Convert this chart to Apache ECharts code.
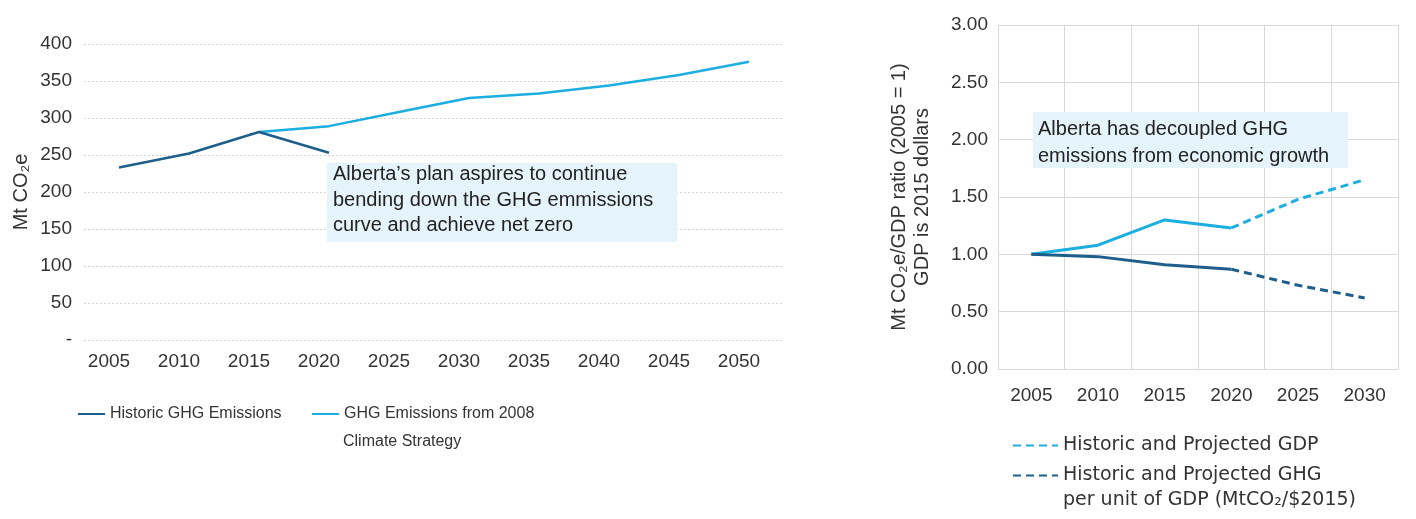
<!DOCTYPE html>
<html>
<head>
<meta charset="utf-8">
<script src="https://cdn.jsdelivr.net/npm/echarts@6/dist/echarts.min.js"></script>
<style>
  html, body { margin: 0; padding: 0; background: #fff; }
  #main { width: 1416px; height: 519px; }
</style>
</head>
<body>
<div id="main"></div>
<script>
// left chart: Mt CO2e by year
const historicYears = [2005, 2010, 2015, 2020];
const historicGhg = [233, 252, 281, 253];
const strategyYears = [2015, 2020, 2025, 2030, 2035, 2040, 2045, 2050];
const strategyGhg = [281, 289, 308, 327, 333, 344, 358, 376];
const leftTickYears = [2005, 2010, 2015, 2020, 2025, 2030, 2035, 2040, 2045, 2050];

// right chart: ratio to 2005
const ratioYears = ['2005', '2010', '2015', '2020', '2025', '2030'];
const gdpHistoric = [1.00, 1.08, 1.30, 1.23, null, null];
const gdpProjected = [null, null, null, 1.23, 1.48, 1.65];
const ghgHistoric = [1.00, 0.98, 0.91, 0.87, null, null];
const ghgProjected = [null, null, null, 0.87, 0.73, 0.62];

const darkBlue = '#1d5f8a';
const lightBlue = '#1caee0';
const txt = '#333333';
const font = '"Liberation Sans", Arial, sans-serif';
const wideFont = '"DejaVu Sans", sans-serif';

const pairs = (xs, ys) => xs.map((x, i) => [x, ys[i]]);

var chart = echarts.init(document.getElementById('main'));
var dashed = [8, 5];

// legend entries whose label wraps: the first line goes in the legend,
// the second one sits under it as plain text
var leftLegendText = { fontSize: 16, color: txt, fontFamily: font };
var rightLegendText = { fontSize: 19, color: txt, fontFamily: wideFont };

var option = {
  animation: false,
  textStyle: { fontFamily: font, color: txt },
  grid: [
    { left: 84, top: 44, width: 700, height: 296 },
    { left: 998, top: 25, width: 400, height: 344 }
  ],
  xAxis: [
    {
      gridIndex: 0, type: 'value', min: 2002.5, max: 2052.5,
      axisLine: { show: false }, axisTick: { show: false }, splitLine: { show: false },
      axisLabel: {
        customValues: leftTickYears, fontSize: 19, color: txt, margin: 12,
        padding: [0, 20, 0, 0], fontFamily: font,
        formatter: v => String(v)
      }
    },
    {
      gridIndex: 1, type: 'category', data: ratioYears, boundaryGap: true,
      axisLine: { lineStyle: { color: '#d9d9d9' } }, axisTick: { show: false },
      splitLine: { show: true, lineStyle: { color: '#d9d9d9', width: 1 } },
      axisLabel: { fontSize: 19, color: txt, margin: 17, fontFamily: font }
    }
  ],
  yAxis: [
    {
      gridIndex: 0, type: 'value', min: 0, max: 400, interval: 50,
      axisLine: { show: false }, axisTick: { show: false },
      splitLine: { lineStyle: { color: '#d4d4d4', type: [2, 2] } },
      axisLabel: {
        fontSize: 19, color: txt, margin: 12, fontFamily: font,
        formatter: v => v === 0 ? '-' : String(v)
      },
      name: 'Mt CO₂e', nameLocation: 'middle', nameGap: 53,
      nameTextStyle: { fontSize: 20, color: txt, fontFamily: font }
    },
    {
      gridIndex: 1, type: 'value', min: 0, max: 3, interval: 0.5,
      axisLine: { show: true, lineStyle: { color: '#d9d9d9' } }, axisTick: { show: false },
      splitLine: { lineStyle: { color: '#d9d9d9', width: 1 } },
      axisLabel: {
        fontSize: 19, color: txt, margin: 10, fontFamily: font,
        formatter: v => v.toFixed(2)
      },
      name: 'Mt CO₂e/GDP ratio (2005 = 1)\nGDP is 2015 dollars',
      nameLocation: 'middle', nameGap: 64,
      nameTextStyle: { fontSize: 20, color: txt, fontFamily: font, lineHeight: 23 }
    }
  ],
  legend: [
    {
      data: ['Historic GHG Emissions'], left: 77, top: 406, padding: 0,
      itemWidth: 27, itemHeight: 14, itemStyle: { opacity: 0 }, textStyle: leftLegendText
    },
    {
      data: ['GHG Emissions from 2008 Climate Strategy'], left: 311, top: 406, padding: 0,
      itemWidth: 27, itemHeight: 14, itemStyle: { opacity: 0 }, textStyle: leftLegendText,
      formatter: () => 'GHG Emissions from 2008'
    },
    {
      data: ['Historic and Projected GDP'], left: 1012, top: 436, padding: 0,
      itemWidth: 45, itemHeight: 14, itemGap: 8, itemStyle: { opacity: 0 }, textStyle: rightLegendText
    },
    {
      data: ['Historic and Projected GHG per unit of GDP'], left: 1012, top: 466, padding: 0,
      itemWidth: 45, itemHeight: 14, itemStyle: { opacity: 0 }, textStyle: rightLegendText,
      formatter: () => 'Historic and Projected GHG'
    }
  ],
  graphic: [
    { type: 'text', left: 343, top: 434, style: { text: 'Climate Strategy', font: '16px ' + font, fill: txt } },
    { type: 'text', left: 1063, top: 491, style: { text: 'per unit of GDP (MtCO₂/$2015)', font: '19px ' + wideFont, fill: txt } },
    { type: 'rect', left: 327, top: 163, shape: { width: 350, height: 79 }, style: { fill: '#e5f4fa' }, z: 5 },
    {
      type: 'text', left: 333, top: 162, z: 6,
      style: {
        text: 'Alberta’s plan aspires to continue\nbending down the GHG emmissions\ncurve and achieve net zero',
        font: '20px ' + font, fill: '#222', lineHeight: 25.5
      }
    },
    { type: 'rect', left: 1033, top: 112, shape: { width: 315, height: 56 }, style: { fill: '#e5f4fa' }, z: 5 },
    {
      type: 'text', left: 1038, top: 116, z: 6,
      style: {
        text: 'Alberta has decoupled GHG\nemissions from economic growth',
        font: '20px ' + font, fill: '#222', lineHeight: 27
      }
    }
  ],
  series: [
    {
      name: 'GHG Emissions from 2008 Climate Strategy', type: 'line', xAxisIndex: 0, yAxisIndex: 0,
      data: pairs(strategyYears, strategyGhg), symbol: 'none', z: 2,
      lineStyle: { color: lightBlue, width: 2.5 }, itemStyle: { color: lightBlue }
    },
    {
      name: 'Historic GHG Emissions', type: 'line', xAxisIndex: 0, yAxisIndex: 0,
      data: pairs(historicYears, historicGhg), symbol: 'none', z: 3,
      lineStyle: { color: darkBlue, width: 2.5 }, itemStyle: { color: darkBlue }
    },
    {
      name: 'gdp-historic', type: 'line', xAxisIndex: 1, yAxisIndex: 1,
      data: gdpHistoric, symbol: 'none',
      lineStyle: { color: lightBlue, width: 3 }, itemStyle: { color: lightBlue }
    },
    {
      name: 'Historic and Projected GDP', type: 'line', xAxisIndex: 1, yAxisIndex: 1,
      data: gdpProjected, symbol: 'none',
      lineStyle: { color: lightBlue, width: 3, type: dashed }, itemStyle: { color: lightBlue }
    },
    {
      name: 'ghg-historic', type: 'line', xAxisIndex: 1, yAxisIndex: 1,
      data: ghgHistoric, symbol: 'none',
      lineStyle: { color: darkBlue, width: 3 }, itemStyle: { color: darkBlue }
    },
    {
      name: 'Historic and Projected GHG per unit of GDP', type: 'line', xAxisIndex: 1, yAxisIndex: 1,
      data: ghgProjected, symbol: 'none',
      lineStyle: { color: darkBlue, width: 3, type: dashed }, itemStyle: { color: darkBlue }
    }
  ]
};
chart.setOption(option);
</script>
</body>
</html>
